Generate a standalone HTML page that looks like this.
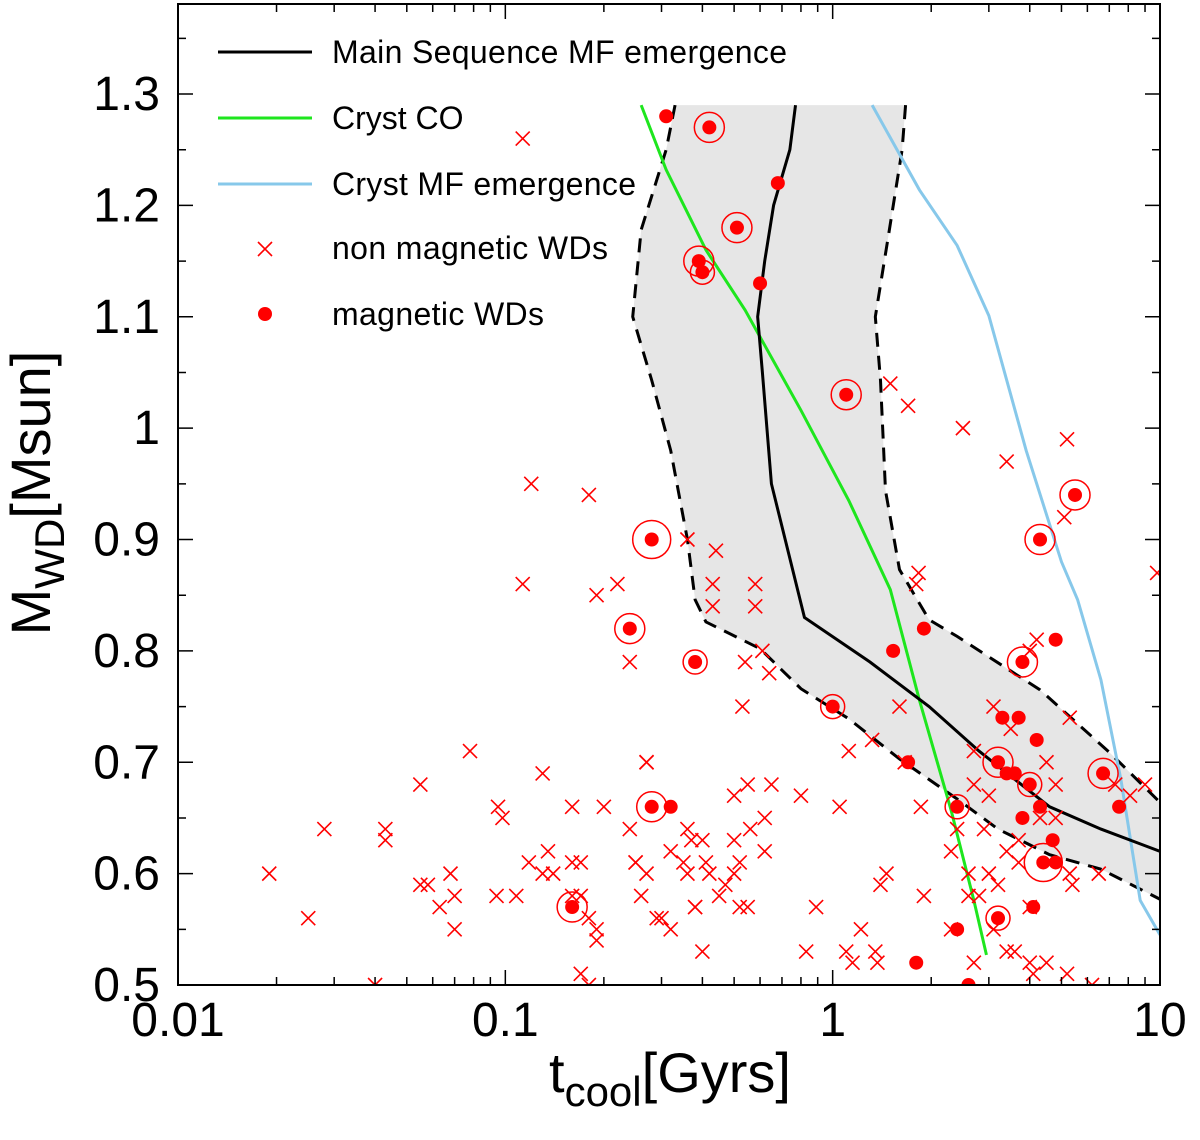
<!DOCTYPE html>
<html><head><meta charset="utf-8"><style>
body{margin:0;background:#fff}
svg text{font-family:"Liberation Sans",sans-serif}
</style></head><body>
<svg id="c" width="1200" height="1135" xmlns="http://www.w3.org/2000/svg"></svg>
<script>
const xTicks=[0.01,0.1,1,10];
const xTickLabels=["0.01","0.1","1","10"];
const yTicks=[0.5,0.6,0.7,0.8,0.9,1.0,1.1,1.2,1.3];
const yTickLabels=["0.5","0.6","0.7","0.8","0.9","1","1.1","1.2","1.3"];
const nmT=[0.113,0.12,0.18,0.113,0.22,0.19,0.36,0.44,0.43,0.58,0.43,0.58,0.61,0.24,0.54,0.53,0.64,0.078,0.13,0.27,0.27,0.019,0.025,0.028,0.043,0.043,0.055,0.055,0.058,0.063,0.068,0.07,0.07,0.04,0.095,0.098,0.094,0.108,0.118,0.13,0.135,0.14,0.16,0.16,0.17,0.16,0.17,0.18,0.19,0.19,0.2,0.17,0.18,0.24,0.25,0.25,0.26,0.27,0.29,0.3,0.32,0.32,0.35,0.36,0.37,0.40,0.41,0.38,0.38,0.36,0.42,0.45,0.40,0.47,0.50,0.52,0.55,0.50,0.55,0.62,0.62,0.50,0.56,0.52,0.65,0.80,1.05,0.83,0.89,1.1,1.15,1.22,1.37,1.46,1.40,1.35,1.12,1.32,1.6,1.66,1.86,1.8,1.83,1.7,1.5,2.5,3.4,4.0,4.2,5.2,5.1,9.8,5.3,4.5,4.8,7.3,9.0,8.1,4.3,4.8,3.1,3.5,2.7,2.7,3.0,2.9,3.7,3.4,3.7,3.0,2.6,2.3,2.8,1.9,2.6,3.2,3.1,3.4,3.6,5.3,5.4,6.5,4.0,4.0,4.1,4.5,5.2,6.2,2.7,2.3,2.4];
const nmM=[1.26,0.95,0.94,0.86,0.86,0.85,0.90,0.89,0.86,0.86,0.84,0.84,0.80,0.79,0.79,0.75,0.78,0.71,0.69,0.70,0.70,0.60,0.56,0.64,0.64,0.63,0.68,0.59,0.59,0.57,0.60,0.55,0.58,0.50,0.66,0.65,0.58,0.58,0.61,0.60,0.62,0.60,0.66,0.61,0.61,0.58,0.58,0.56,0.55,0.54,0.66,0.51,0.50,0.64,0.61,0.61,0.58,0.60,0.56,0.56,0.55,0.62,0.61,0.64,0.63,0.63,0.61,0.57,0.57,0.60,0.60,0.58,0.53,0.59,0.60,0.57,0.57,0.67,0.68,0.65,0.62,0.63,0.64,0.61,0.68,0.67,0.66,0.53,0.57,0.53,0.52,0.55,0.52,0.60,0.59,0.53,0.71,0.72,0.75,0.70,0.66,0.86,0.87,1.02,1.04,1.0,0.97,0.80,0.81,0.99,0.92,0.87,0.74,0.70,0.68,0.68,0.68,0.67,0.65,0.65,0.75,0.73,0.71,0.68,0.67,0.64,0.63,0.62,0.61,0.60,0.60,0.62,0.58,0.58,0.58,0.59,0.55,0.53,0.53,0.60,0.59,0.60,0.57,0.52,0.51,0.52,0.51,0.50,0.52,0.55,0.64];
const mT=[0.31,0.42,0.68,0.51,0.39,0.40,0.60,1.10,0.28,0.24,0.38,1.9,1.53,1.0,1.7,0.28,0.32,0.16,1.8,2.6,2.4,2.4,3.2,4.1,3.2,3.3,3.7,3.4,3.6,4.0,4.2,4.3,3.8,4.7,4.4,4.8,3.8,4.8,4.3,5.5,6.7,7.5];
const mM=[1.28,1.27,1.22,1.18,1.15,1.14,1.13,1.03,0.90,0.82,0.79,0.82,0.80,0.75,0.70,0.66,0.66,0.57,0.52,0.50,0.66,0.55,0.56,0.57,0.70,0.74,0.74,0.69,0.69,0.68,0.72,0.66,0.65,0.63,0.61,0.61,0.79,0.81,0.90,0.94,0.69,0.66];
const mRing=[0,2,0,2,2,1,0,2,3,2,1,0,0,1,0,2,0,2,0,0,1,0,1,0,2,0,0,0,0,1,0,0,0,0,3,0,2,0,2,2,2,0];
const msT=[0.77,0.74,0.66,0.62,0.59,0.61,0.65,0.82,1.3,1.97,2.8,4.6,6.6,10];
const msM=[1.29,1.25,1.20,1.15,1.10,1.05,0.95,0.83,0.79,0.75,0.71,0.66,0.64,0.62];
const loT=[0.33,0.31,0.26,0.245,0.28,0.32,0.36,0.38,0.41,0.6,0.8,1.12,1.6,2.4,3.2,4.6,6.6,10];
const loM=[1.29,1.25,1.178,1.1,1.043,0.98,0.90,0.846,0.826,0.802,0.766,0.739,0.703,0.667,0.64,0.617,0.604,0.577];
const hiT=[1.67,1.63,1.49,1.35,1.4,1.45,1.6,1.97,2.4,4.3,7.0,10];
const hiM=[1.29,1.25,1.178,1.1,1.043,0.944,0.873,0.828,0.813,0.765,0.709,0.664];
const coT=[0.26,0.31,0.41,0.54,0.8,1.12,1.5,1.84,2.3,2.7,2.95];
const coM=[1.29,1.232,1.16,1.106,1.016,0.935,0.855,0.756,0.657,0.576,0.527];
const cmT=[1.32,1.84,2.4,3.0,3.9,5.0,5.6,6.6,7.6,8.7,10];
const cmM=[1.29,1.214,1.164,1.101,0.98,0.88,0.846,0.774,0.684,0.576,0.545];

const L=178,R=1160,T=4,B=985;
const X=t=>L+(Math.log10(t)+2)*(R-L)/3;
const Y=m=>B-(m-0.5)*(985-94)/0.8;
const svg=document.getElementById('c');
const NS='http://www.w3.org/2000/svg';
function mk(tag,attrs,parent){const e=document.createElementNS(NS,tag);for(const k in attrs)e.setAttribute(k,attrs[k]);(parent||svg).appendChild(e);return e;}
const clip=mk('clipPath',{id:'pc'});mk('rect',{x:L,y:T,width:R-L,height:B-T},clip);
const g=mk('g',{'clip-path':'url(#pc)'});


let pts=loT.map((t,i)=>X(t)+','+Y(loM[i]));
for(let i=hiT.length-1;i>=0;i--)pts.push(X(hiT[i])+','+Y(hiM[i]));
let band=mk('polygon',{points:pts.join(' '),fill:'#e6e6e6'},g);


function line(ts,ms,attrs,name){const e=mk('polyline',Object.assign({points:ts.map((t,i)=>X(t)+','+Y(ms[i])).join(' '),fill:'none'},attrs),g);

return e;}
line(loT,loM,{stroke:'#000','stroke-width':3,'stroke-dasharray':'14,9'},'band-lower-edge');
line(hiT,hiM,{stroke:'#000','stroke-width':3,'stroke-dasharray':'14,9'},'band-upper-edge');
line(cmT,cmM,{stroke:'#87c8ea','stroke-width':3},'cryst-mf-line');
line(coT,coM,{stroke:'#1ee61e','stroke-width':3},'cryst-co-line');
line(msT,msM,{stroke:'#000','stroke-width':3},'main-sequence-line');
nmT.forEach((t,i)=>{const x=X(t),y=Y(nmM[i]);
const e=mk('path',{d:`M${x-7},${y-7}L${x+7},${y+7}M${x-7},${y+7}L${x+7},${y-7}`,stroke:'#f00','stroke-width':1.6},g);

});
const ringR=[0,12,15,19];
mT.forEach((t,i)=>{const x=X(t),y=Y(mM[i]);
if(mRing[i]){const r=mk('circle',{cx:x,cy:y,r:ringR[mRing[i]],fill:'none',stroke:'#f00','stroke-width':1.5},g);

}
const e=mk('circle',{cx:x,cy:y,r:7,fill:'#f00'},g);

});
const fr=mk('rect',{x:L,y:T,width:R-L,height:B-T,fill:'none',stroke:'#000','stroke-width':2});


let d='';
for(let e=-2;e<1;e++)for(let k=1;k<10;k++){const x=X(k*Math.pow(10,e));const len=k===1?15:8;d+=`M${x},${B}v${-len}M${x},${T}v${len}`;}
for(let v=0.5;v<=1.38;v+=0.05){const y=Y(v);const len=(Math.round(v*100)%10===0)?15:8;d+=`M${L},${y}h${len}M${R},${y}h${-len}`;}
const tk=mk('path',{d:d,stroke:'#000','stroke-width':1.5,fill:'none'});


xTicks.forEach((t,i)=>{const e=mk('text',{x:X(t),y:1036,'font-size':48,'text-anchor':'middle'});e.textContent=xTickLabels[i];

});
yTicks.forEach((v,i)=>{const e=mk('text',{x:160,y:Y(v)+16,'font-size':48,'text-anchor':'end'});e.textContent=yTickLabels[i];

});
</script>
<svg style="position:absolute;left:0;top:0" width="1200" height="1135" xmlns="http://www.w3.org/2000/svg">
<g font-size="32" font-family="Liberation Sans, sans-serif">
<line x1="218" y1="52" x2="312" y2="52" stroke="#000" stroke-width="3"/>
<text x="332" y="63" textLength="455">Main Sequence MF emergence</text>
<line x1="218" y1="118" x2="312" y2="118" stroke="#1ee61e" stroke-width="3"/>
<text x="332" y="129">Cryst CO</text>
<line x1="218" y1="184" x2="312" y2="184" stroke="#87c8ea" stroke-width="3"/>
<text x="332" y="195" textLength="304">Cryst MF emergence</text>
<path d="M258,242L272,256M258,256L272,242" stroke="#f00" stroke-width="1.6"/>
<text x="332" y="259" textLength="276">non magnetic WDs</text>
<circle cx="265" cy="314" r="7" fill="#f00"/>
<text x="332" y="325" textLength="212">magnetic WDs</text>
</g>
<text x="670" y="1092" font-size="56" text-anchor="middle">t<tspan font-size="42" dy="14">cool</tspan><tspan dy="-14">[Gyrs]</tspan></text>
<text transform="translate(50,493) rotate(-90)" font-size="56" text-anchor="middle">M<tspan font-size="42" dy="14">WD</tspan><tspan dy="-14">[Msun]</tspan></text>
</svg>
</body></html>
